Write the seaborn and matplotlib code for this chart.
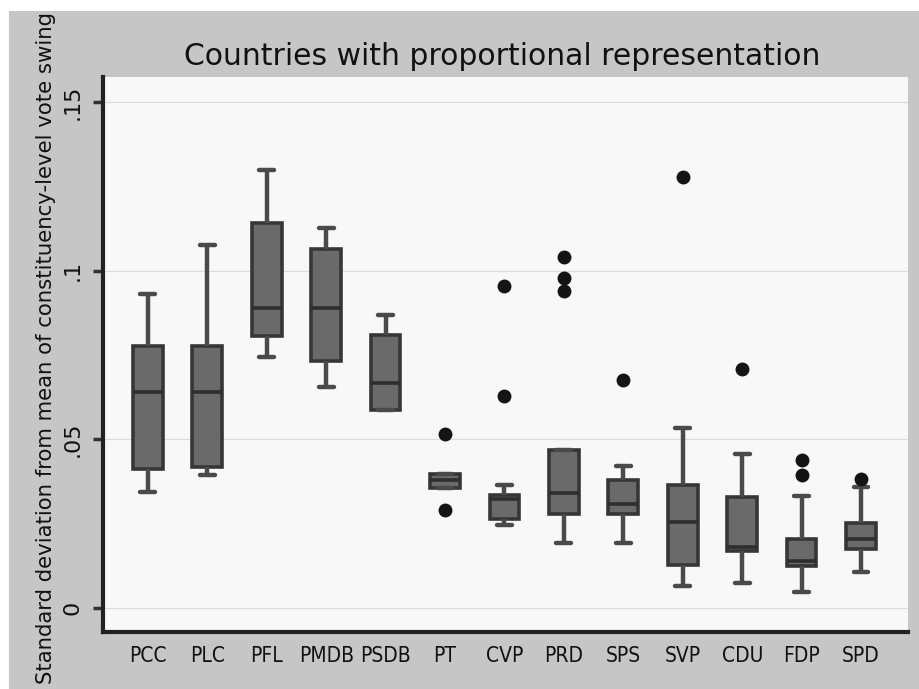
import numpy as np
import pandas as pd
import matplotlib
matplotlib.use("Agg")
import matplotlib.pyplot as plt
from matplotlib import font_manager
from matplotlib.patches import Rectangle
import seaborn as sns

# ---- data ----
parties = ["PCC", "PLC", "PFL", "PMDB", "PSDB", "PT", "CVP", "PRD", "SPS", "SVP", "CDU", "FDP", "SPD"]
whisker_low = [0.0343, 0.0394, 0.0746, 0.0657, 0.0588, 0.0355, 0.0245, 0.0194, 0.0194, 0.0066, 0.0075, 0.0048, 0.0107]
q1          = [0.0412, 0.0418, 0.0806, 0.0734, 0.0588, 0.0355, 0.0263, 0.0278, 0.0280, 0.0128, 0.0170, 0.0125, 0.0176]
median      = [0.0642, 0.0642, 0.0890, 0.0890, 0.0666, 0.0380, 0.0322, 0.0340, 0.0308, 0.0254, 0.0180, 0.0140, 0.0206]
q3          = [0.0776, 0.0776, 0.1143, 0.1066, 0.0809, 0.0397, 0.0334, 0.0469, 0.0380, 0.0364, 0.0328, 0.0206, 0.0251]
whisker_high= [0.0930, 0.1078, 0.1299, 0.1128, 0.0869, 0.0397, 0.0364, 0.0469, 0.0420, 0.0534, 0.0457, 0.0331, 0.0358]
outlier_party = ["PT", "PT", "CVP", "CVP", "PRD", "PRD", "PRD", "SPS", "SVP", "CDU", "FDP", "FDP", "SPD"]
outlier_value = [0.0517, 0.0290, 0.0955, 0.0630, 0.1040, 0.0980, 0.0940, 0.0675, 0.1278, 0.0710, 0.0439, 0.0394, 0.0382]
yticks = [0, 0.05, 0.10, 0.15]
ytick_labels = ["0", ".05", ".1", ".15"]

rows = []
for i, p in enumerate(parties):
    for v in (whisker_low[i], q1[i], median[i], q3[i], whisker_high[i]):
        rows.append({"party": p, "sd": v})
box_df = pd.DataFrame(rows)
out_df = pd.DataFrame({"party": outlier_party, "sd": outlier_value})

sns.set_theme(style="white")
plt.rcParams["font.family"] = ["DejaVu Sans"]

installed = {f.name for f in font_manager.fontManager.ttflist}
narrow = "Liberation Sans Narrow" if "Liberation Sans Narrow" in installed else None

W, H = 920, 689
fig = plt.figure(figsize=(9.2, 6.89), dpi=100)
fig.patch.set_facecolor("#c6c6c6")
# white scan margins at top and left
fig.patches.append(Rectangle((0, 1 - 11 / H), 1, 11 / H, transform=fig.transFigure,
                             facecolor="white", edgecolor="none", zorder=0))
fig.patches.append(Rectangle((0, 0), 9 / W, 1, transform=fig.transFigure,
                             facecolor="white", edgecolor="none", zorder=0))

ax = fig.add_axes([103 / W, 1 - 632 / H, (908 - 103) / W, (632 - 77) / H])
ax.set_facecolor("#f8f8f8")

sns.boxplot(data=box_df, x="party", y="sd", order=parties, whis=(0, 100),
            width=0.5, color="#6a6a6a", linecolor="#363636", linewidth=2.6,
            saturation=1, showfliers=False,
            medianprops={"color": "#2e2e2e", "linewidth": 2.6},
            capprops={"color": "#4a4a4a", "linewidth": 3.2},
            whiskerprops={"color": "#4a4a4a", "linewidth": 3.2},
            ax=ax)
sns.stripplot(data=out_df, x="party", y="sd", order=parties, jitter=False,
              color="#141414", size=10, linewidth=0, ax=ax, zorder=5)

# y scale: 0 -> 608 px, .15 -> 102 px
ax.set_ylim(-0.0071, 0.1575)
ax.set_xlim(-0.756, 12.79)
ax.set_yticks(yticks)
ax.set_yticklabels(ytick_labels, rotation=90, va="center", fontsize=16, color="#111111")
for y in yticks:
    ax.axhline(y, color="#dcdcdc", linewidth=0.9, zorder=0)

ax.set_xticks(range(len(parties)))
if narrow:
    ax.set_xticklabels(parties, fontsize=16.5, color="#111111", family=[narrow, "DejaVu Sans"])
else:
    ax.set_xticklabels(parties, fontsize=15, color="#111111", fontstretch="condensed")
ax.tick_params(axis="x", length=0, pad=10)
ax.tick_params(axis="y", length=7, width=2.5, color="#333333", pad=8, left=True)
ax.set_xlabel("")
ax.set_ylabel("")

for s in ("top", "right"):
    ax.spines[s].set_visible(False)
for s in ("left", "bottom"):
    ax.spines[s].set_color("#222222")
    ax.spines[s].set_linewidth(3)

fig.text(502 / W, 1 - 65 / H, "Countries with proportional representation",
         ha="center", va="baseline", fontsize=21.5, color="#111111")
fig.text(46 / W, 1 - 348 / H,
         "Standard deviation from mean of constituency-level vote swing",
         rotation=90, ha="center", va="center", fontsize=15.3, color="#111111")

fig.savefig("out.png", dpi=100, facecolor=fig.get_facecolor())
